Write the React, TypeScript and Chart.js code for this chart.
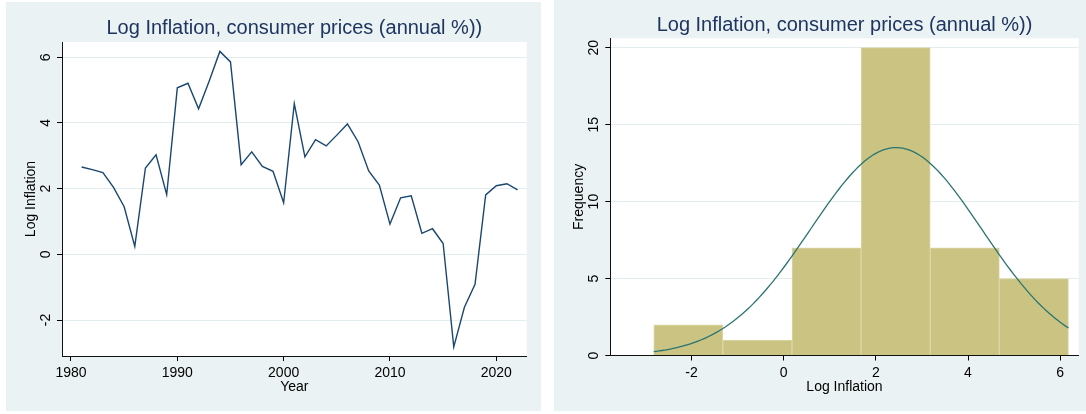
import React, { useEffect, useRef } from "react";
import { Chart, registerables } from "chart.js";

Chart.register(...registerables);

// Annual log inflation, consumer prices
const years = [
  1981, 1982, 1983, 1984, 1985, 1986, 1987, 1988, 1989, 1990, 1991, 1992, 1993, 1994,
  1995, 1996, 1997, 1998, 1999, 2000, 2001, 2002, 2003, 2004, 2005, 2006, 2007, 2008,
  2009, 2010, 2011, 2012, 2013, 2014, 2015, 2016, 2017, 2018, 2019, 2020, 2021, 2022,
];
const logInflation = [
  2.66, 2.58, 2.49, 2.04, 1.45, 0.24, 2.63, 3.03, 1.82, 5.07, 5.21, 4.43, 5.28, 6.18,
  5.86, 2.73, 3.12, 2.68, 2.53, 1.57, 4.59, 2.97, 3.49, 3.3, 3.63, 3.97, 3.43, 2.54,
  2.11, 0.92, 1.72, 1.78, 0.64, 0.78, 0.33, -2.82, -1.61, -0.91, 1.81, 2.09, 2.15, 1.96,
];

const yearTicks = [1980, 1990, 2000, 2010, 2020];
const lineValueTicks = [-2, 0, 2, 4, 6];
const histValueTicks = [-2, 0, 2, 4, 6];
const frequencyTicks = [0, 5, 10, 15, 20];
const binCount = 6;

const TITLE = "Log Inflation, consumer prices (annual %))";
const FONT = "'Liberation Sans', Arial, Helvetica, sans-serif";
const PANEL_BG = "#eaf2f3";
const GRID = "#e3ecef";
const TITLE_COLOR = "#1f3560";
const LINE_COLOR = "#1a476f";
const BAR_FILL = "#cbc382";
const BAR_EDGE = "#dcd7a8";
const CURVE_COLOR = "#2a7571";

Chart.defaults.font.family = FONT;

// Histogram bins spanning the data range, like Stata's default
const dataMin = Math.min(...logInflation);
const dataMax = Math.max(...logInflation);
const binWidth = (dataMax - dataMin) / binCount;
const binCenters = Array.from({ length: binCount }, (_, i) => dataMin + binWidth * (i + 0.5));
const binCounts = binCenters.map((_, i) =>
  logInflation.filter((v) => {
    const lo = dataMin + binWidth * i;
    const hi = lo + binWidth;
    return i === binCount - 1 ? v >= lo && v <= hi + 1e-9 : v >= lo && v < hi;
  }).length
);

// Normal density overlay, scaled to frequencies
const n = logInflation.length;
const mean = logInflation.reduce((a, b) => a + b, 0) / n;
const sd = Math.sqrt(logInflation.reduce((a, v) => a + (v - mean) ** 2, 0) / (n - 1));
const curveSteps = 150;
const normalCurve = Array.from({ length: curveSteps + 1 }, (_, i) => {
  const x = dataMin + ((dataMax - dataMin) * i) / curveSteps;
  const z = (x - mean) / sd;
  return { x, y: (n * binWidth * Math.exp(-0.5 * z * z)) / (sd * Math.sqrt(2 * Math.PI)) };
});

// White plot region inside the tinted panel
const plotBackground = {
  id: "plotBackground",
  beforeDraw(chart: any) {
    const { ctx, chartArea } = chart;
    ctx.save();
    ctx.fillStyle = "#fff";
    ctx.fillRect(chartArea.left, chartArea.top, chartArea.right - chartArea.left, chartArea.bottom - chartArea.top);
    ctx.restore();
  },
};

// Stata-style vertical value labels on the y axis
const rotatedYTicks = {
  id: "rotatedYTicks",
  afterDraw(chart: any) {
    const s = chart.scales.y;
    const ctx = chart.ctx;
    ctx.save();
    ctx.fillStyle = "#000";
    ctx.font = `14px ${FONT}`;
    ctx.textAlign = "center";
    ctx.textBaseline = "middle";
    s.ticks.forEach((t: any) => {
      ctx.save();
      ctx.translate(s.right - 16, s.getPixelForValue(t.value));
      ctx.rotate(-Math.PI / 2);
      ctx.fillText(String(t.value), 0, 0);
      ctx.restore();
    });
    ctx.restore();
  },
};

const setTicks = (values: number[]) => (s: any) => {
  s.ticks = values.map((value) => ({ value }));
};

function axisX(opts: {
  min: number;
  max: number;
  ticks: number[];
  title: string;
  height: number;
  titleBottom: number;
}) {
  return {
    type: "linear",
    min: opts.min,
    max: opts.max,
    offset: false,
    afterBuildTicks: setTicks(opts.ticks),
    afterFit: (s: any) => {
      s.height = opts.height;
    },
    ticks: {
      color: "#000",
      font: { size: 14 },
      padding: 4,
      maxRotation: 0,
      autoSkip: false,
      callback: (v: any) => String(v),
    },
    grid: { offset: false, drawOnChartArea: false, drawTicks: true, tickLength: 5, tickColor: "#000" },
    border: { display: true, color: "#111", width: 1 },
    title: {
      display: true,
      text: opts.title,
      color: "#000",
      font: { size: 14 },
      padding: { top: 0, bottom: opts.titleBottom },
    },
  };
}

function axisY(opts: { min: number; max: number; ticks: number[]; title: string; width: number }) {
  return {
    type: "linear",
    min: opts.min,
    max: opts.max,
    afterBuildTicks: setTicks(opts.ticks),
    afterFit: (s: any) => {
      s.width = opts.width;
    },
    ticks: { display: false },
    grid: { color: GRID, lineWidth: 1, drawTicks: true, tickLength: 5, tickColor: "#000" },
    border: { display: true, color: "#111", width: 1 },
    title: {
      display: true,
      text: opts.title,
      color: "#000",
      font: { size: 14 },
      padding: { top: 16.3, bottom: 0 },
    },
  };
}

// Title centred over the plot region rather than the whole canvas
function titleOptions(top: number, bottom: number) {
  return {
    display: true,
    fullSize: false,
    text: TITLE,
    color: TITLE_COLOR,
    font: { size: 20, weight: "normal" as const },
    padding: { top, bottom },
  };
}

function useChart(ref: React.RefObject<HTMLCanvasElement | null>, build: () => any) {
  useEffect(() => {
    if (!ref.current) return;
    const chart = new Chart(ref.current, build());
    return () => chart.destroy();
  }, []);
}

function TimeSeriesPanel() {
  const ref = useRef<HTMLCanvasElement | null>(null);
  useChart(ref, () => ({
    type: "line",
    data: {
      datasets: [
        {
          data: years.map((y, i) => ({ x: y, y: logInflation[i] })),
          borderColor: LINE_COLOR,
          borderWidth: 1.4,
          pointRadius: 0,
          tension: 0,
          fill: false,
        },
      ],
    },
    options: {
      responsive: false,
      animation: false,
      devicePixelRatio: 1,
      layout: { padding: { left: 0, right: 14.3, top: 0, bottom: 0 } },
      plugins: {
        legend: { display: false },
        tooltip: { enabled: false },
        title: titleOptions(14.5, 1.5),
      },
      scales: {
        x: axisX({ min: 1979.154, max: 2022.859, ticks: yearTicks, title: "Year", height: 55, titleBottom: 15.6 }),
        y: axisY({ min: -3.096, max: 6.466, ticks: lineValueTicks, title: "Log Inflation", width: 56 }),
      },
    },
    plugins: [plotBackground, rotatedYTicks],
  }));
  return <canvas ref={ref} width={535} height={409} style={{ display: "block" }} />;
}

function HistogramPanel() {
  const ref = useRef<HTMLCanvasElement | null>(null);
  useChart(ref, () => ({
    type: "bar",
    data: {
      datasets: [
        {
          type: "line",
          order: 0,
          data: normalCurve,
          borderColor: CURVE_COLOR,
          borderWidth: 1.3,
          pointRadius: 0,
          tension: 0,
          fill: false,
        },
        {
          type: "bar",
          order: 1,
          data: binCenters.map((c, i) => ({ x: c, y: binCounts[i] })),
          backgroundColor: BAR_FILL,
          borderColor: BAR_EDGE,
          borderWidth: 1,
          barPercentage: 1,
          categoryPercentage: 1,
        },
      ],
    },
    options: {
      responsive: false,
      animation: false,
      devicePixelRatio: 1,
      layout: { padding: { left: 0, right: 7.3, top: 0, bottom: 0 } },
      plugins: {
        legend: { display: false },
        tooltip: { enabled: false },
        title: titleOptions(13, 1.3),
      },
      scales: {
        x: axisX({ min: -3.763, max: 6.402, ticks: histValueTicks, title: "Log Inflation", height: 55.5, titleBottom: 15.9 }),
        y: axisY({ min: 0, max: 20.61, ticks: frequencyTicks, title: "Frequency", width: 56.3 }),
      },
    },
    plugins: [plotBackground, rotatedYTicks],
  }));
  return <canvas ref={ref} width={532} height={411} style={{ display: "block" }} />;
}

export default function App() {
  return (
    <div style={{ position: "fixed", left: 0, top: 0, width: 1086, height: 414, background: "#fff", overflow: "hidden" }}>
      <div style={{ position: "absolute", left: 6, top: 2, width: 535, height: 409, background: PANEL_BG }}>
        <TimeSeriesPanel />
      </div>
      <div style={{ position: "absolute", left: 554, top: 0, width: 532, height: 411, background: PANEL_BG }}>
        <HistogramPanel />
      </div>
    </div>
  );
}
